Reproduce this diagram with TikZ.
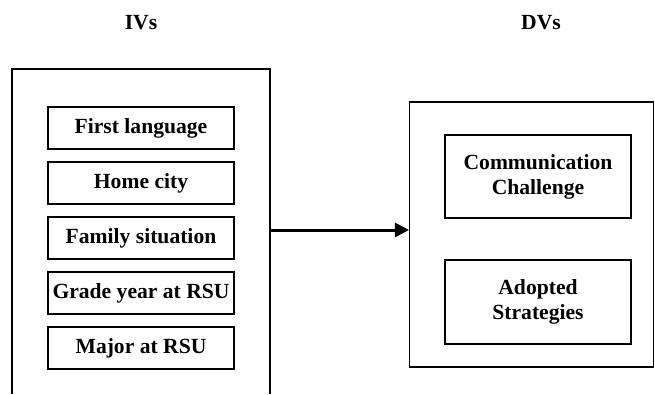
\documentclass[tikz,border=0pt]{standalone}
\usepackage{fontspec}
\setmainfont{Liberation Serif}
\usetikzlibrary{arrows.meta,positioning}

\tikzset{
    x=1pt, y=1pt,
    frame/.style={line width=1.1pt},
    varbox/.style={draw, line width=1.1pt, minimum width=186pt, inner sep=0pt,
        align=center, font=\fontsize{21.6}{25}\selectfont\bfseries},
    heading/.style={font=\fontsize{21.6}{25}\selectfont\bfseries},
}
\newcommand{\ivboxes}[1]{
    \foreach\t [count={\i} from 0] in {#1} {
        \node[varbox, minimum height=42pt] (iv\i) at (141, 266-55*\i) {\t};
    }
}

\begin{document}
\begin{tikzpicture}
    \useasboundingbox (0,0) rectangle (655,394);

    %% Independent variables
    \node[heading] (ivlabel) at (141, 371) {IVs};
    \draw[frame] (12,0) |- (270,325) -- (270,0);
    \ivboxes{First language, Home city, Family situation, Grade year at RSU, Major at RSU}

    %% Dependent variables
    \node[heading] (dvlabel) at (541, 371) {DVs};
    \node[draw, frame, minimum width=244pt, minimum height=265pt] (dvframe) at (531.5, 159.5) {};
    \node[varbox, minimum height=83pt] (comm) at (538, 217.5) {Communication\\Challenge};
    \node[varbox, minimum height=84pt] (adopt) at (538, 92) {Adopted\\Strategies};

    % Link
    \coordinate (ivexit) at (270, 164);
    \draw[line width=3pt, -{Triangle[length=14pt, width=14pt]}] (ivexit) -- (ivexit -| dvframe.west);

\end{tikzpicture}
\end{document}
